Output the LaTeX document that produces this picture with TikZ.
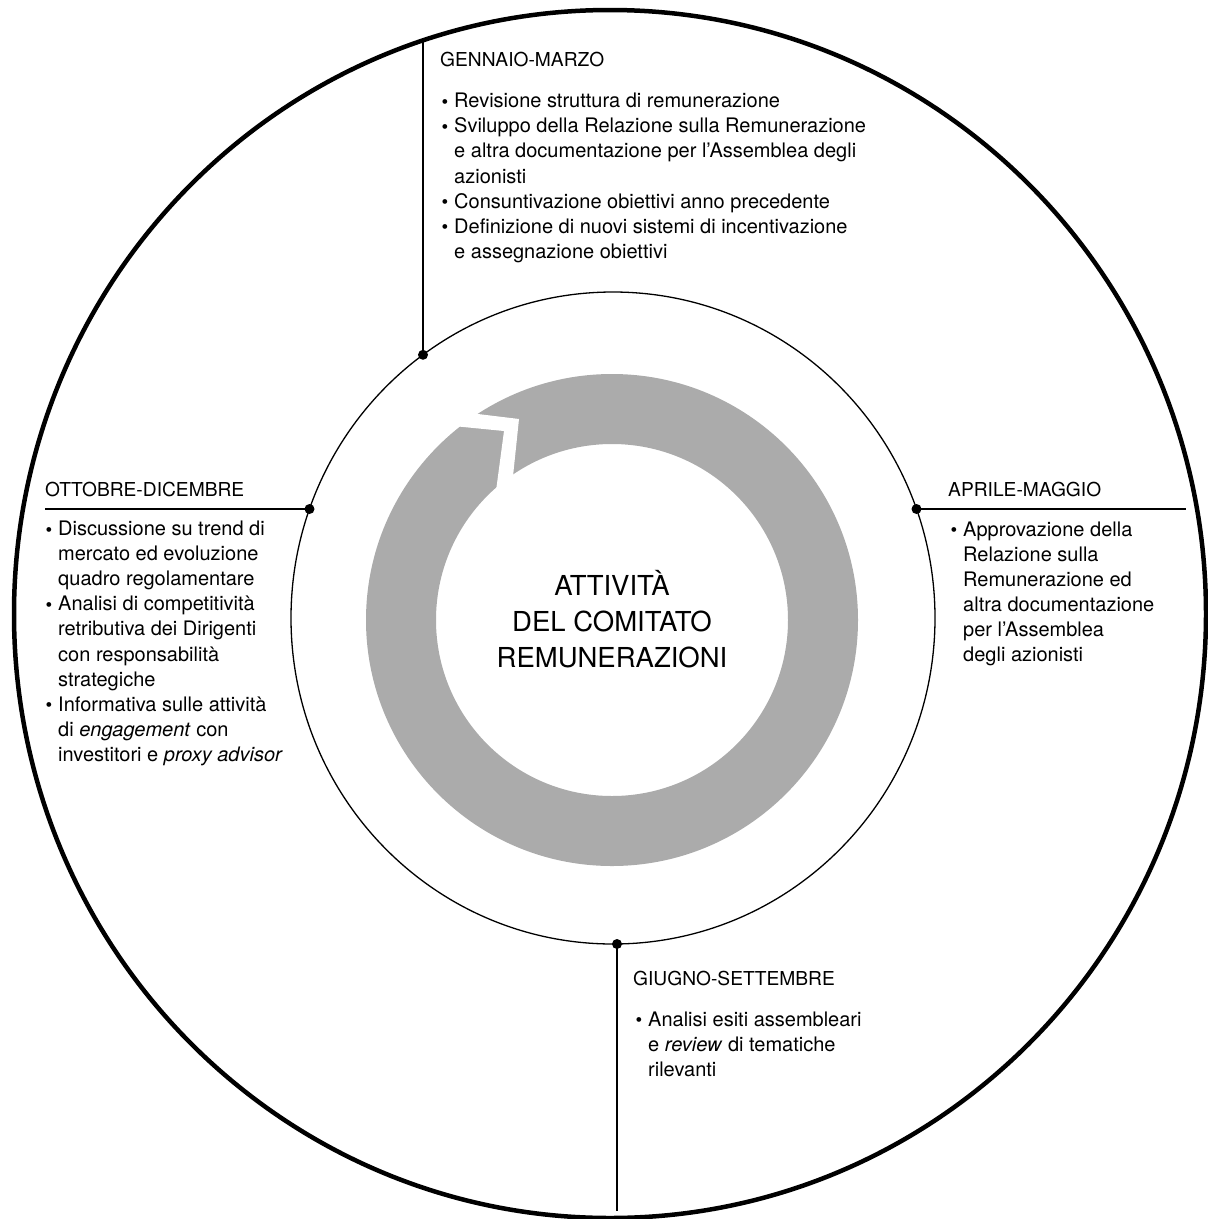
\documentclass[tikz,border=0pt]{standalone}
\usepackage{fontspec}
\setmainfont{TeX Gyre Heros}
\definecolor{ringgray}{HTML}{ABABAB}
\newcommand\bodysize{\fontsize{20}{25.1}\selectfont}
\newcommand\headsize{\fontsize{19.2}{25.1}\selectfont}
\newcommand\centersize{\fontsize{27.5}{36}\selectfont}
\newcommand\bul{\makebox[12.5pt][l]{\raisebox{-0.5pt}{\fontsize{19}{19}\selectfont\textbullet}}}
\begin{document}
\begin{tikzpicture}[x=1pt,y=-1pt,
  txt/.style={inner sep=0pt, anchor=base west, font=\bodysize},
  head/.style={inner sep=0pt, anchor=base west, font=\headsize},
  dot/.style={circle, fill=black, inner sep=0pt, minimum size=10pt},
  conn/.style={line width=1.8pt},
  outerring/.style={line width=4.5pt},
  innerring/.style={line width=1.3pt}]
\useasboundingbox (0,0) rectangle (1208,1219);

% grey circular arrow
\fill[ringgray, even odd rule] (612,620) circle[radius=246] (612,620) circle[radius=176];
\fill[white] (438,424.5) -- (504,431) -- (496,491) -- (512.5,481) -- (519,419) -- (453,411) -- cycle;

% circles
\draw[outerring] (610,614) ellipse [x radius=596, y radius=604];
\draw[innerring] (613,618) ellipse [x radius=322, y radius=326];

% dots on inner circle
\node[dot] (dT) at (423,354.8) {};
\node[dot] (dL) at (309.5,509) {};
\node[dot] (dR) at (916.5,509) {};
\node[dot] (dB) at (617,944) {};

% connector ends
\coordinate (oT) at (423,40.5);
\coordinate (oB) at (617,1211);
\coordinate (eL) at (45,509);
\coordinate (eR) at (1186,509);

\draw[conn] (dT.center) -- (oT);
\draw[conn] (dB.center) -- (oB);
\draw[conn] (dL.center) -- (eL);
\draw[conn] (dR.center) -- (eR);

% centre title
\node[anchor=base, inner sep=0pt, font=\centersize] (title) at (612,595)
  {\begin{tabular}[t]{@{}c@{}}ATTIVITÀ\\DEL COMITATO\\REMUNERAZIONI\end{tabular}};

% top block
\node[head] (hT) at (440,66.7) {GENNAIO-MARZO};
\node[txt] (lT) at (441.5,107.7) {\begin{tabular}[t]{@{}l@{}l@{}}
\bul & Revisione struttura di remunerazione\\
\bul & Sviluppo della Relazione sulla Remunerazione\\
 & e altra documentazione per l’Assemblea degli\\
 & azionisti\\
\bul & Consuntivazione obiettivi anno precedente\\
\bul & Definizione di nuovi sistemi di incentivazione\\
 & e assegnazione obiettivi
\end{tabular}};

% left block
\node[head] (hL) at (45,496) {OTTOBRE-DICEMBRE};
\node[txt] (lL) at (45.5,535.5) {\begin{tabular}[t]{@{}l@{}l@{}}
\bul & Discussione su trend di\\
 & mercato ed evoluzione\\
 & quadro regolamentare\\
\bul & Analisi di competitività\\
 & retributiva dei Dirigenti\\
 & con responsabilità\\
 & strategiche\\
\bul & Informativa sulle attività\\
 & di \textit{engagement} con\\
 & investitori e \textit{proxy advisor}
\end{tabular}};

% right block
\node[head] (hR) at (948,496) {APRILE-MAGGIO};
\node[txt] (lR) at (950.5,536) {\begin{tabular}[t]{@{}l@{}l@{}}
\bul & Approvazione della\\
 & Relazione sulla\\
 & Remunerazione ed\\
 & altra documentazione\\
 & per l’Assemblea\\
 & degli azionisti
\end{tabular}};

% bottom block
\node[head] (hB) at (633,985) {GIUGNO-SETTEMBRE};
\node[txt] (lB) at (635.5,1026) {\begin{tabular}[t]{@{}l@{}l@{}}
\bul & Analisi esiti assembleari\\
 & e \textit{review} di tematiche\\
 & rilevanti
\end{tabular}};
\end{tikzpicture}
\end{document}
